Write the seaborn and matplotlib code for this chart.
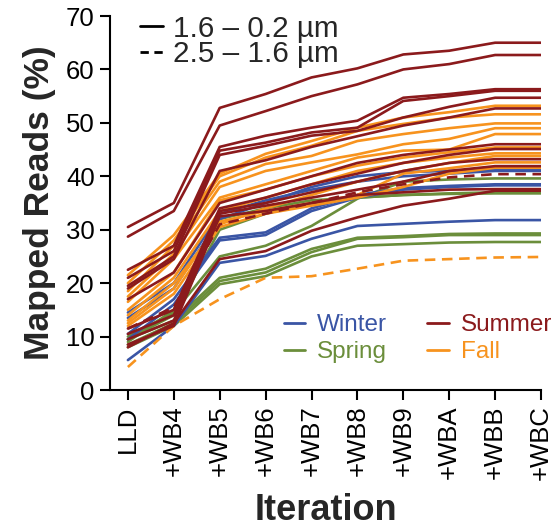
import numpy as np
import pandas as pd
import matplotlib
matplotlib.use("Agg")
import matplotlib.pyplot as plt
from matplotlib.lines import Line2D
import seaborn as sns

iterations = ["LLD", "+WB4", "+WB5", "+WB6", "+WB7", "+WB8", "+WB9", "+WBA", "+WBB", "+WBC"]

# Summer (maroon)
summer_1 = [30.5, 35.0, 52.8, 55.4, 58.5, 60.2, 62.8, 63.5, 65.0, 65.0]
summer_2 = [28.7, 33.5, 49.5, 52.2, 55.0, 57.2, 60.0, 61.0, 62.7, 62.7]
summer_3 = [22.5, 27.0, 45.5, 47.6, 49.1, 50.4, 54.7, 55.4, 56.3, 56.3]
summer_4 = [21.0, 26.0, 44.8, 46.3, 48.2, 49.1, 54.1, 55.0, 56.0, 56.0]
summer_5 = [19.5, 25.0, 44.0, 45.7, 47.6, 48.5, 51.0, 53.0, 54.7, 54.7]
summer_6 = [19.0, 24.5, 41.0, 43.0, 45.5, 47.5, 49.5, 51.0, 52.7, 52.7]
summer_7 = [17.0, 22.0, 35.0, 37.5, 40.0, 42.5, 44.0, 45.0, 46.0, 46.0]
summer_8 = [11.5, 15.0, 34.0, 36.0, 38.5, 40.5, 42.5, 44.0, 45.1, 45.1]
summer_9 = [10.5, 14.0, 33.5, 35.0, 37.0, 39.0, 41.0, 42.5, 43.2, 43.2]
summer_10 = [9.5, 13.0, 33.0, 34.5, 36.0, 37.5, 39.0, 41.0, 41.9, 41.9]
summer_11 = [8.5, 12.0, 32.5, 33.5, 35.0, 36.5, 37.0, 37.5, 37.6, 37.6]
summer_12 = [8.0, 12.5, 24.5, 26.0, 29.8, 32.3, 34.5, 35.8, 37.3, 37.3]
summer_d = [11.5, 15.5, 31.0, 33.0, 35.0, 37.0, 38.5, 39.8, 40.4, 40.4]

# Fall (orange)
fall_1 = [21.5, 29.0, 40.5, 44.2, 46.6, 49.1, 51.0, 52.0, 53.2, 53.2]
fall_2 = [20.0, 28.0, 40.0, 43.5, 45.7, 48.5, 49.8, 51.0, 51.6, 51.6]
fall_3 = [18.5, 27.0, 39.0, 42.3, 43.8, 46.6, 47.9, 49.0, 49.9, 49.9]
fall_4 = [17.5, 25.5, 38.0, 41.0, 42.6, 44.1, 46.0, 47.0, 49.0, 49.0]
fall_5 = [16.5, 24.5, 36.0, 38.5, 41.0, 43.5, 44.8, 45.0, 47.9, 47.9]
fall_6 = [15.0, 22.0, 35.5, 37.5, 40.0, 42.0, 43.5, 44.5, 45.4, 45.4]
fall_7 = [14.0, 21.0, 33.5, 36.0, 38.5, 41.0, 42.5, 43.5, 44.3, 44.3]
fall_8 = [13.0, 20.0, 31.0, 34.0, 36.5, 39.0, 41.0, 42.5, 43.8, 43.8]
fall_9 = [12.5, 19.0, 31.5, 33.5, 35.0, 36.5, 40.5, 41.5, 42.6, 42.6]
fall_10 = [12.0, 18.0, 30.5, 33.0, 34.5, 36.0, 38.0, 40.5, 41.6, 41.6]
fall_d = [4.3, 12.0, 17.0, 21.0, 21.3, 22.7, 24.2, 24.5, 24.8, 24.9]

# Winter (blue)
winter_1 = [10.5, 17.0, 28.5, 29.5, 34.0, 36.5, 37.8, 38.2, 38.5, 38.5]
winter_2 = [9.5, 16.0, 28.0, 29.0, 33.5, 36.0, 37.5, 38.0, 38.3, 38.3]
winter_3 = [5.6, 12.0, 23.8, 25.1, 28.3, 30.7, 31.1, 31.5, 31.8, 31.8]
winter_4 = [13.5, 19.0, 32.0, 35.0, 38.0, 40.0, 40.8, 41.0, 41.3, 41.3]
winter_5 = [14.5, 20.0, 33.0, 35.5, 37.5, 39.0, 40.0, 40.5, 41.0, 41.0]

# Spring (green)
spring_1 = [9.5, 13.0, 21.0, 22.7, 26.4, 28.5, 28.8, 29.2, 29.3, 29.3]
spring_2 = [8.5, 12.5, 20.4, 22.0, 25.8, 28.3, 28.6, 29.0, 29.0, 29.0]
spring_3 = [8.0, 12.0, 19.8, 21.3, 25.0, 27.0, 27.3, 27.6, 27.7, 27.7]
spring_4 = [10.0, 14.5, 25.0, 27.0, 30.7, 35.8, 39.0, 39.4, 39.6, 39.6]
spring_5 = [9.0, 15.0, 32.0, 34.0, 35.5, 36.0, 36.5, 36.7, 36.8, 36.8]
spring_6 = [9.5, 14.0, 30.0, 33.0, 35.0, 36.0, 36.5, 36.8, 37.0, 37.0]

SOLID = "1.6 – 0.2 µm"
DASH = "2.5 – 1.6 µm"
series = [
    ("Spring", SOLID, spring_1), ("Spring", SOLID, spring_2),
    ("Spring", SOLID, spring_3), ("Spring", SOLID, spring_4),
    ("Spring", SOLID, spring_5), ("Spring", SOLID, spring_6),
    ("Winter", SOLID, winter_1), ("Winter", SOLID, winter_2),
    ("Winter", SOLID, winter_3), ("Winter", SOLID, winter_4),
    ("Winter", SOLID, winter_5),
    ("Fall", SOLID, fall_1), ("Fall", SOLID, fall_2),
    ("Fall", SOLID, fall_3), ("Fall", SOLID, fall_4),
    ("Fall", SOLID, fall_5), ("Fall", SOLID, fall_6),
    ("Fall", SOLID, fall_7), ("Fall", SOLID, fall_8),
    ("Fall", SOLID, fall_9), ("Fall", SOLID, fall_10),
    ("Fall", DASH, fall_d),
    ("Summer", SOLID, summer_1), ("Summer", SOLID, summer_2),
    ("Summer", SOLID, summer_3), ("Summer", SOLID, summer_4),
    ("Summer", SOLID, summer_5), ("Summer", SOLID, summer_6),
    ("Summer", SOLID, summer_7), ("Summer", SOLID, summer_8),
    ("Summer", SOLID, summer_9), ("Summer", SOLID, summer_10),
    ("Summer", SOLID, summer_11), ("Summer", SOLID, summer_12),
    ("Summer", DASH, summer_d),
]

rows = []
for k, (season, size, vals) in enumerate(series):
    for i, v in enumerate(vals):
        rows.append({"sample": k, "season": season, "size": size, "x": i, "value": v})
df = pd.DataFrame(rows)

palette = {"Winter": "#3A55A5", "Spring": "#6B8E3B", "Summer": "#8B1A1C", "Fall": "#F7931E"}
dashes = {SOLID: "", DASH: (4, 2.5)}

sns.set_style("ticks")
plt.rcParams["font.family"] = ["Liberation Sans", "DejaVu Sans"]

fig = plt.figure(figsize=(5.53, 5.32), dpi=100)
ax = fig.add_axes([110 / 553, (532 - 390) / 532, (541 - 110) / 553, (390 - 16) / 532])

sns.lineplot(data=df, x="x", y="value", units="sample", estimator=None,
             hue="season", style="size", palette=palette, dashes=dashes,
             linewidth=1.9, legend=False, ax=ax, sort=False)

ax.set_xlim(-0.39, 9)
ax.set_ylim(0, 70)
ax.set_xticks(range(len(iterations)))
ax.set_xticklabels(iterations, rotation=90)
ax.set_yticks(range(0, 71, 10))
ax.tick_params(axis="both", labelsize=18.5, length=7, width=1.5, color="black",
               labelcolor="black", pad=4)
for s in ["top", "right"]:
    ax.spines[s].set_visible(False)
for s in ["left", "bottom"]:
    ax.spines[s].set_linewidth(1.5)
    ax.spines[s].set_color("black")

ax.set_xlabel("Iteration", fontsize=26, fontweight="bold", labelpad=9)
ax.set_ylabel("Mapped Reads (%)", fontsize=25.5, fontweight="bold", labelpad=7)

# season legend
order = ["Winter", "Spring", "Summer", "Fall"]
h_season = [Line2D([], [], color=palette[s], lw=2) for s in order]
leg1 = ax.legend(h_season, order, ncol=2, frameon=False, fontsize=17.5,
                 labelcolor="linecolor", handlelength=0.9, handletextpad=0.49,
                 columnspacing=1.65, labelspacing=0.19, borderaxespad=0,
                 loc="upper left", bbox_to_anchor=(0.38, 0.228))
ax.add_artist(leg1)

# size-fraction legend
h_size = [Line2D([], [], color="black", lw=2, ls="-"),
          Line2D([], [], color="black", lw=2, dashes=(3, 2))]
ax.legend(h_size, [SOLID, DASH], frameon=False, fontsize=21.3,
          handlelength=0.78, handletextpad=0.34, labelspacing=-0.085,
          borderaxespad=0, loc="upper left", bbox_to_anchor=(0.042, 1.035))

fig.savefig("out.png", dpi=100)
